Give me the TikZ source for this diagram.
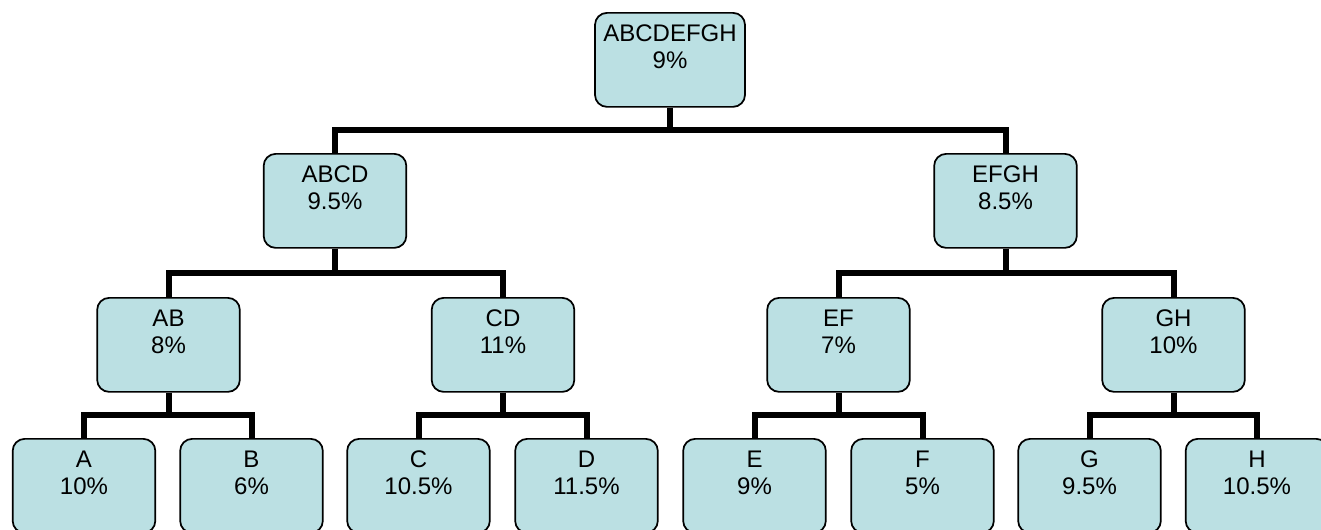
\documentclass[tikz,border=0pt]{standalone}
\usepackage{fontspec}
\setmainfont{Liberation Sans}
\usetikzlibrary{calc,backgrounds}
\definecolor{boxfill}{HTML}{BBE0E3}
\tikzset{
  box/.style={draw=black, line width=1.3pt, fill=boxfill, rounded corners=9pt,
    minimum width=107pt, minimum height=70.5pt, inner sep=0pt, anchor=north,
    align=center, font=\fontsize{18pt}{20.25pt}\selectfont},
  link/.style={draw=black, line width=4.5pt,
    to path={(\tikztostart) |- ($(\tikztostart)!0.5!(\tikztotarget)$) -| (\tikztotarget)}}
}
\begin{document}
\begin{tikzpicture}[x=0.75pt,y=-0.75pt]
\useasboundingbox (0,0) rectangle (1321,529);
\node[box, minimum width=112.5pt] (r) at (670,12) {ABCDEFGH\\9\%\\~};
\node[box] (abcd) at (335,153) {ABCD\\9.5\%\\~};
\node[box] (efgh) at (1005.5,153) {EFGH\\8.5\%\\~};
\node[box] (ab) at (168.5,297) {AB\\8\%\\~};
\node[box] (cd) at (503,297) {CD\\11\%\\~};
\node[box] (ef) at (838.5,297) {EF\\7\%\\~};
\node[box] (gh) at (1173.5,297) {GH\\10\%\\~};
\node[box] (a) at (84,438) {A\\10\%\\~};
\node[box] (b) at (251.5,438) {B\\6\%\\~};
\node[box] (c) at (418.5,438) {C\\10.5\%\\~};
\node[box] (d) at (586.5,438) {D\\11.5\%\\~};
\node[box] (e) at (754.5,438) {E\\9\%\\~};
\node[box] (f) at (922.5,438) {F\\5\%\\~};
\node[box] (g) at (1089.5,438) {G\\9.5\%\\~};
\node[box] (h) at (1257,438) {H\\10.5\%\\~};
\begin{scope}[on background layer]
\draw[link] (r.south) to (abcd.north);
\draw[link] (r.south) to (efgh.north);
\draw[link] (abcd.south) to (ab.north);
\draw[link] (abcd.south) to (cd.north);
\draw[link] (efgh.south) to (ef.north);
\draw[link] (efgh.south) to (gh.north);
\draw[link] (ab.south) to (a.north);
\draw[link] (ab.south) to (b.north);
\draw[link] (cd.south) to (c.north);
\draw[link] (cd.south) to (d.north);
\draw[link] (ef.south) to (e.north);
\draw[link] (ef.south) to (f.north);
\draw[link] (gh.south) to (g.north);
\draw[link] (gh.south) to (h.north);
\end{scope}
\end{tikzpicture}
\end{document}
